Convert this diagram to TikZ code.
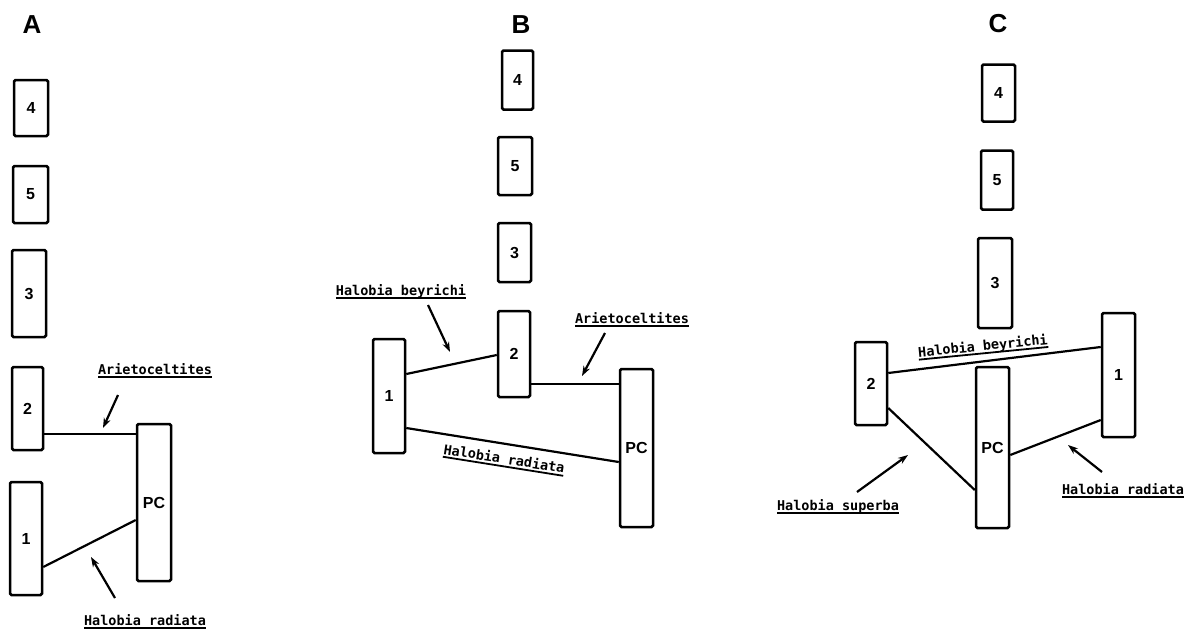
\documentclass[tikz,border=0pt]{standalone}
\usepackage{fontspec}
\setmainfont{Liberation Sans}
\newfontfamily\labfont{DejaVu Sans Mono}
\usetikzlibrary{arrows.meta}
\newsavebox\ulbox
\newcommand\ulab[1]{\sbox\ulbox{#1}\usebox\ulbox\llap{\rule[-3.5pt]{\wd\ulbox}{1.8pt}}}
\tikzset{
  box/.style={draw, line width=2.5pt, rounded corners=1.5pt, inner sep=0pt,
    font=\fontsize{16}{16}\selectfont\bfseries},
  panel/.style={font=\fontsize{26}{26}\selectfont\bfseries},
  species/.style={inner sep=1pt, font=\labfont\fontsize{13.5}{14}\selectfont\bfseries},
  link/.style={line width=2.2pt},
  arr/.style={line width=2.2pt, -{Stealth[length=10pt,width=7pt]}},
}
\begin{document}
\begin{tikzpicture}[x=1pt,y=-1pt]
\useasboundingbox (0,0) rectangle (1200,643);
% ---------------- Panel A
\node[panel] (A) at (32,25) {A};
\node[box, minimum width=34, minimum height=56] (A4) at (31,108) {4};
\node[box, minimum width=35, minimum height=57] (A5) at (30.5,194.5) {5};
\node[box, minimum width=34, minimum height=87] (A3) at (29,293.5) {3};
\node[box, minimum width=31, minimum height=83] (A2) at (27.5,408.5) {2};
\node[box, minimum width=32, minimum height=113] (A1) at (26,538.5) {1};
\node[box, minimum width=34, minimum height=157] (APC) at (154,502.5) {PC};
\draw[link] ([yshift=-25.5pt]A2.east) -- ([yshift=68.5pt]APC.west);
\draw[link] ([yshift=-28.5pt]A1.east) -- ([yshift=-17.5pt]APC.west);
\node[species] (Aarie) at (155,371) {\ulab{Arietoceltites}};
\node[species] (Arad) at (145,622) {\ulab{Halobia radiata}};
\coordinate (Aariet) at (118,395);
\coordinate (Aarieh) at (103,428);
\coordinate (Aradt) at (115,598);
\coordinate (Aradh) at (91,557);
\draw[arr] (Aariet) -- (Aarieh);
\draw[arr] (Aradt) -- (Aradh);
% ---------------- Panel B
\node[panel] (B) at (521,25) {B};
\node[box, minimum width=31, minimum height=59] (B4) at (517.5,80) {4};
\node[box, minimum width=34, minimum height=58] (B5) at (515,166) {5};
\node[box, minimum width=33, minimum height=59] (B3) at (514.5,252.5) {3};
\node[box, minimum width=32, minimum height=86] (B2) at (514,354) {2};
\node[box, minimum width=32, minimum height=114] (B1) at (389,396) {1};
\node[box, minimum width=33, minimum height=158] (BPC) at (636.5,448) {PC};
\draw[link] ([yshift=22pt]B1.east) -- ([yshift=-1pt]B2.west);
\draw[link] ([yshift=-30pt]B2.east) -- ([yshift=64pt]BPC.west);
\draw[link] ([yshift=-32pt]B1.east) -- ([yshift=-14pt]BPC.west);
\node[species] (Bbey) at (401,292) {\ulab{Halobia beyrichi}};
\node[species] (Barie) at (632,320) {\ulab{Arietoceltites}};
\node[species, rotate=-9] (Brad) at (504,460) {\ulab{Halobia radiata}};
\coordinate (Bbeyt) at (428,305);
\coordinate (Bbeyh) at (450,352);
\coordinate (Bariet) at (605,333);
\coordinate (Barieh) at (582,376);
\draw[arr] (Bbeyt) -- (Bbeyh);
\draw[arr] (Bariet) -- (Barieh);
% ---------------- Panel C
\node[panel] (C) at (998,24) {C};
\node[box, minimum width=33, minimum height=57] (C4) at (998.5,93) {4};
\node[box, minimum width=32, minimum height=59] (C5) at (997,180) {5};
\node[box, minimum width=34, minimum height=90] (C3) at (995,283) {3};
\node[box, minimum width=32, minimum height=83] (C2) at (871,383.5) {2};
\node[box, minimum width=33, minimum height=124] (C1) at (1118.5,375) {1};
\node[box, minimum width=33, minimum height=161] (CPC) at (992.5,447.5) {PC};
\draw[link] ([yshift=10.5pt]C2.east) -- ([yshift=28pt]C1.west);
\draw[link] ([yshift=-24.5pt]C2.east) -- ([yshift=-42.5pt]CPC.west);
\draw[link] ([yshift=-7.5pt]CPC.east) -- ([yshift=-45pt]C1.west);
\node[species, rotate=5.6] (Cbey) at (983,347) {\ulab{Halobia beyrichi}};
\node[species] (Csup) at (838,507) {\ulab{Halobia superba}};
\node[species] (Crad) at (1123,491) {\ulab{Halobia radiata}};
\coordinate (Csupt) at (857,492);
\coordinate (Csuph) at (908,455);
\coordinate (Cradt) at (1102,472);
\coordinate (Cradh) at (1068,445);
\draw[arr] (Csupt) -- (Csuph);
\draw[arr] (Cradt) -- (Cradh);
\end{tikzpicture}
\end{document}
